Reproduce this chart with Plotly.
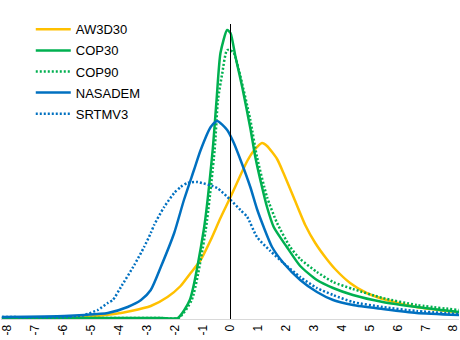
import plotly.graph_objects as go

# Elevation error (m) vs relative frequency (%)
x_aw3d30 = [-8.2, -5.24, -4.17, -3.57, -2.86, -2.26, -1.79, -1.43, -1.07, -0.71, -0.36, 0.0, 0.36, 0.6, 0.83, 1.13,
            1.31, 1.67, 1.9, 2.26, 2.68, 3.04, 3.45, 3.75, 4.29, 4.88, 5.6, 6.67, 8.2]
y_aw3d30 = [0.01, 0.02, 0.05, 0.08, 0.13, 0.22, 0.33, 0.46, 0.59, 0.79, 1.01, 1.22, 1.44, 1.58, 1.68, 1.76,
            1.73, 1.60, 1.46, 1.22, 0.94, 0.76, 0.60, 0.50, 0.36, 0.26, 0.19, 0.12, 0.065]

x_cop30 = [-8.2, -4.0, -2.5, -1.89, -1.46, -0.96, -0.64, -0.5, -0.36, -0.12, 0.0, 0.18, 0.42, 0.71, 0.89, 1.13,
           1.31, 1.55, 2.02, 2.5, 3.1, 3.68, 4.39, 5.46, 6.68, 8.2]
y_cop30 = [0.01, 0.01, 0.01, 0.01, 0.19, 0.89, 1.69, 2.19, 2.66, 2.89, 2.86, 2.62, 2.32, 1.91, 1.62, 1.32,
           1.12, 0.92, 0.72, 0.53, 0.39, 0.31, 0.24, 0.17, 0.12, 0.07]

x_cop90 = [-8.2, -4.0, -2.5, -1.86, -1.39, -0.89, -0.57, -0.45, -0.3, -0.12, 0.1, 0.3, 0.71, 0.95, 1.31, 1.67,
           2.14, 2.5, 3.1, 3.68, 4.39, 5.46, 6.68, 8.2]
y_cop90 = [0.01, 0.01, 0.01, 0.01, 0.19, 0.89, 1.69, 2.19, 2.45, 2.69, 2.67, 2.49, 1.99, 1.62, 1.22, 0.96,
           0.72, 0.60, 0.47, 0.37, 0.30, 0.21, 0.14, 0.09]

x_nasadem = [-8.2, -5.96, -5.24, -4.4, -3.69, -3.21, -2.86, -2.5, -2.02, -1.67, -1.31, -1.07, -0.71, -0.48,
             -0.12, 0.12, 0.36, 0.71, 0.95, 1.19, 1.49, 1.9, 2.5, 3.1, 3.68, 4.39, 5.46, 6.67, 8.2]
y_nasadem = [0.02, 0.03, 0.04, 0.06, 0.12, 0.19, 0.29, 0.52, 0.86, 1.19, 1.49, 1.69, 1.92, 1.98,
             1.89, 1.76, 1.59, 1.32, 1.10, 0.92, 0.72, 0.56, 0.39, 0.27, 0.19, 0.14, 0.10, 0.06, 0.04]

x_srtmv3 = [-8.2, -5.83, -5.24, -4.76, -4.4, -4.22, -3.93, -3.45, -3.1, -2.86, -2.74, -2.38, -2.02, -1.79,
            -1.55, -1.19, -0.48, 0.0, 0.36, 0.6, 0.95, 1.43, 1.9, 2.5, 3.1, 3.68, 4.39, 5.46, 6.67, 8.2]
y_srtmv3 = [0.02, 0.02, 0.04, 0.09, 0.16, 0.19, 0.32, 0.54, 0.72, 0.86, 0.94, 1.12, 1.26, 1.32,
            1.36, 1.37, 1.31, 1.19, 1.09, 1.02, 0.82, 0.68, 0.56, 0.42, 0.31, 0.24, 0.17, 0.12, 0.08, 0.05]

tick_vals = list(range(-8, 9))
tick_text = [str(v) for v in tick_vals]

series = [
    ("AW3D30", x_aw3d30, y_aw3d30, "#FFC000", "solid"),
    ("COP30", x_cop30, y_cop30, "#00B050", "solid"),
    ("COP90", x_cop90, y_cop90, "#00B050", "2px,2px"),
    ("NASADEM", x_nasadem, y_nasadem, "#0070C0", "solid"),
    ("SRTMV3", x_srtmv3, y_srtmv3, "#0070C0", "2px,2px"),
]

fig = go.Figure()
for name, xs, ys, color, dash in series:
    fig.add_trace(go.Scatter(
        x=xs, y=ys, mode="lines", name=name, legendgroup=name,
        line=dict(color=color, width=2.5, dash=dash, shape="spline", smoothing=0.6),
    ))

fig.add_shape(type="line", x0=0, x1=0, y0=0, y1=2.95, xref="x", yref="y",
              line=dict(color="black", width=1))

fig.update_layout(
    width=460, height=340,
    margin=dict(l=0, r=0, t=0, b=21),
    paper_bgcolor="white", plot_bgcolor="white",
    font=dict(family="Liberation Sans, Arial, sans-serif", size=12, color="#000000"),
    showlegend=True,
    legend=dict(x=0.065, y=0.955, xanchor="left", yanchor="top",
                font=dict(size=13, color="#000000"), bgcolor="rgba(0,0,0,0)",
                itemwidth=35, tracegroupgap=1.2, traceorder="grouped"),
    xaxis=dict(range=[-8.232, 8.196], tickmode="array", tickvals=tick_vals, ticktext=tick_text,
               tickangle=-90, showgrid=False, zeroline=False, showline=True,
               linecolor="#D9D9D9", linewidth=1, ticks="", tickfont=dict(size=12),
               ticklabeloverflow="allow"),
    yaxis=dict(range=[0, 3.19], showgrid=False, zeroline=False, showline=False,
               showticklabels=False, ticks=""),
)

fig.write_html("out.html")
